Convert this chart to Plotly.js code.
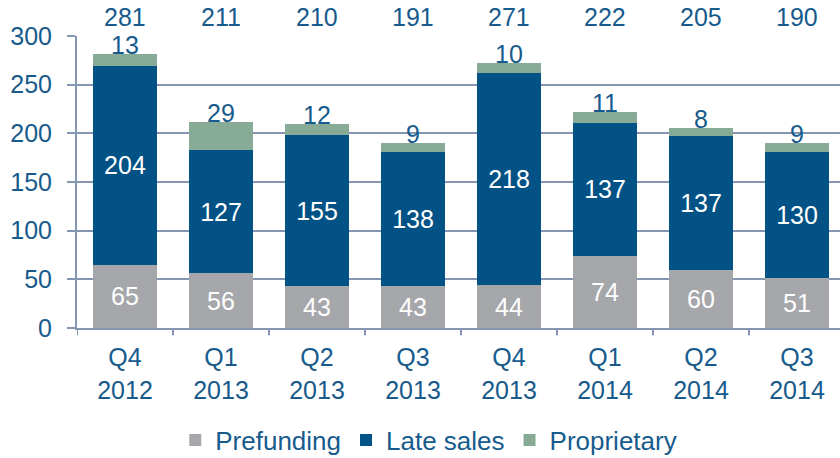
<!DOCTYPE html>
<html>
<head>
<meta charset="utf-8">
<script src="https://cdn.plot.ly/plotly-3.0.1.min.js"></script>
<style>html,body{margin:0;padding:0;background:#fff;}#chart{width:840px;height:458px;}</style>
</head>
<body>
<div id="chart"></div>
<script>
const categories = ["Q4<br>2012","Q1<br>2013","Q2<br>2013","Q3<br>2013","Q4<br>2013","Q1<br>2014","Q2<br>2014","Q3<br>2014"];
const prefunding = [65, 56, 43, 43, 44, 74, 60, 51];
const lateSales = [204, 127, 155, 138, 218, 137, 137, 130];
const proprietary = [13, 29, 12, 9, 10, 11, 8, 9];
const totals = [281, 211, 210, 191, 271, 222, 205, 190];

const TXT = '#175b8c';
const AX = '#8496b0';
const FONT = 'Liberation Sans, Arial, sans-serif';
const FS = 25;
const xs = categories.map((c, i) => i);

const traces = [
  {type:'bar', name:'Prefunding', x:xs, y:prefunding, marker:{color:'#a6a7aa'},
   text:prefunding.map(String), textposition:'inside', insidetextanchor:'middle',
   textfont:{color:'#ffffff', size:FS, family:FONT}, constraintext:'none', hoverinfo:'none'},
  {type:'bar', name:'Late sales', x:xs, y:lateSales, marker:{color:'#025285'},
   text:lateSales.map(String), textposition:'inside', insidetextanchor:'middle',
   textfont:{color:'#ffffff', size:FS, family:FONT}, constraintext:'none', hoverinfo:'none'},
  {type:'bar', name:'Proprietary', x:xs, y:proprietary, marker:{color:'#88ab97'},
   textposition:'none', hoverinfo:'none'}
];

const annotations = [];
xs.forEach((x, i) => {
  annotations.push({x:x, y:prefunding[i]+lateSales[i]+proprietary[i], xref:'x', yref:'y',
    text:String(proprietary[i]), showarrow:false, yanchor:'middle', yshift:9,
    font:{color:TXT, size:FS, family:FONT}});
  annotations.push({x:x, y:1, xref:'x', yref:'paper', text:String(totals[i]),
    showarrow:false, yanchor:'middle', yshift:19, font:{color:TXT, size:FS, family:FONT}});
});

const layout = {
  width:840, height:458,
  margin:{l:77, r:0, t:36, b:130, autoexpand:false},
  barmode:'stack', bargap:0.333,
  paper_bgcolor:'#ffffff', plot_bgcolor:'#ffffff',
  font:{family:FONT, color:TXT, size:FS},
  xaxis:{type:'linear', range:[-0.5, 7.448], tickmode:'array', tickvals:xs, ticktext:categories,
    showgrid:false, showline:true, linecolor:AX, linewidth:2, automargin:false,
    ticks:'', ticklabelstandoff:6, tickfont:{size:FS, color:TXT}, zeroline:false, fixedrange:true},
  yaxis:{range:[0,300], tickmode:'array', tickvals:[0,50,100,150,200,250,300],
    showgrid:true, gridcolor:AX, gridwidth:2, showline:true, linecolor:AX, linewidth:2,
    ticks:'outside', ticklen:8, tickwidth:2, tickcolor:AX, ticklabelstandoff:10, automargin:false,
    tickfont:{size:FS, color:TXT}, zeroline:false, fixedrange:true},
  shapes: xs.map(x => ({type:'line', xref:'x', yref:'paper', x0:x-0.5, x1:x-0.5, y0:0, y1:-0.025,
    line:{color:AX, width:2}})),
  legend:{orientation:'h', x:0.461, xanchor:'center', yref:'container', y:0.039, yanchor:'middle',
    font:{size:26, color:TXT, family:FONT}, traceorder:'normal'},
  annotations:annotations,
  showlegend:true
};

Plotly.newPlot('chart', traces, layout, {displayModeBar:false, staticPlot:true});
</script>
</body>
</html>
